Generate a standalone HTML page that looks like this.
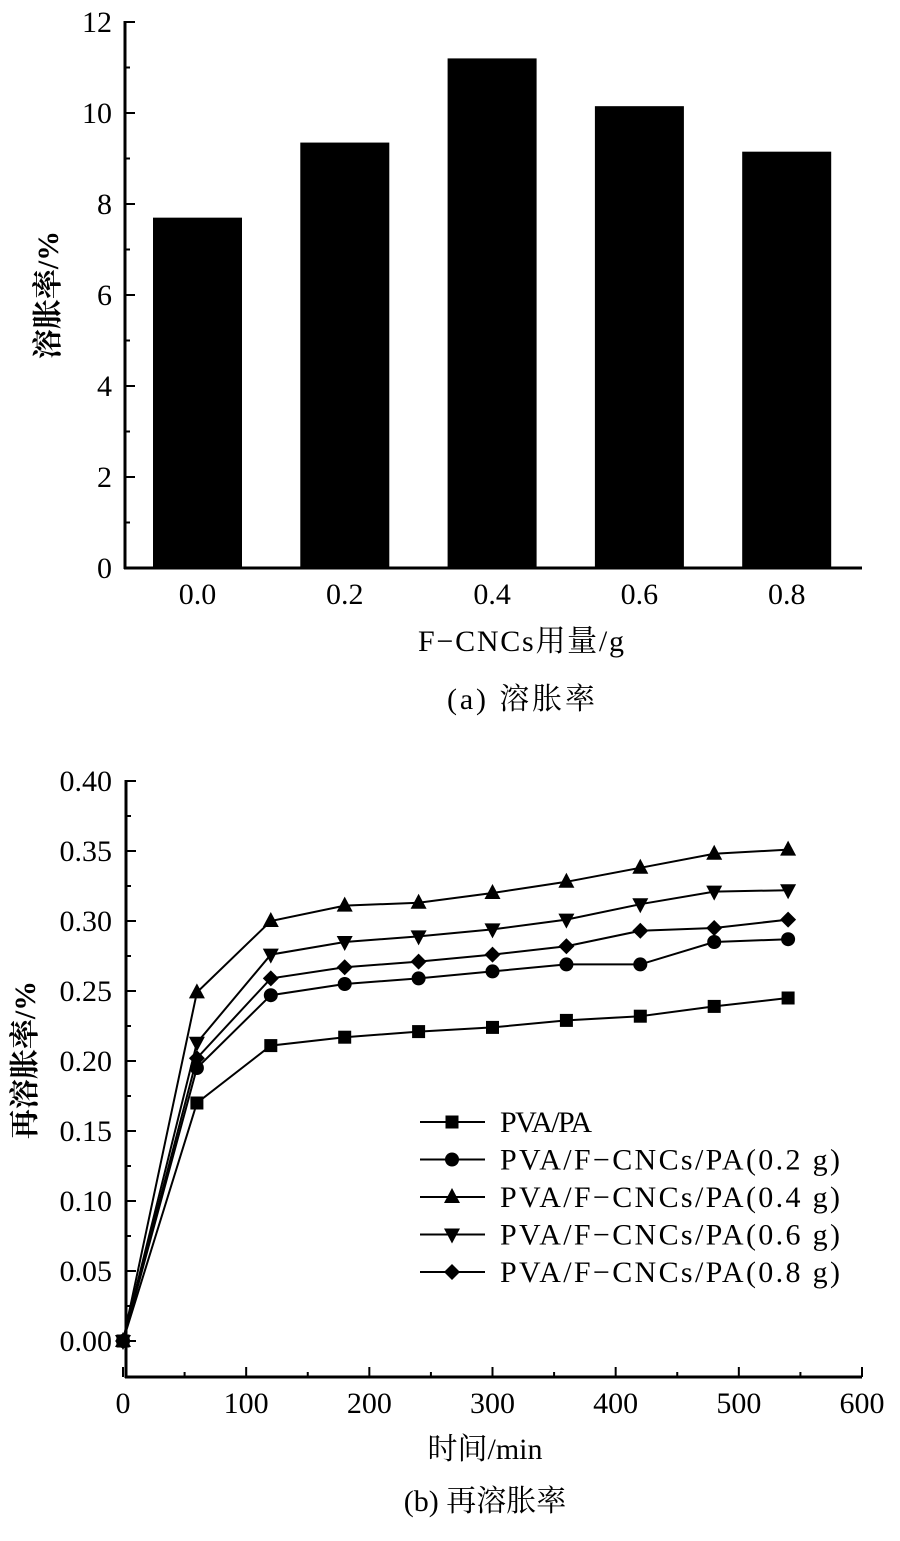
<!DOCTYPE html>
<html><head><meta charset="utf-8"><style>
body{margin:0;background:#fff;}
svg text{font-family:"Liberation Serif","Noto Serif CJK SC",serif;fill:#000;}
</style></head><body>
<svg id="s" width="900" height="1536" xmlns="http://www.w3.org/2000/svg"></svg>
<script>
var s=document.getElementById('s'),h='';
function L(x1,y1,x2,y2,w){h+='<line x1="'+x1+'" y1="'+y1+'" x2="'+x2+'" y2="'+y2+'" stroke="#000" stroke-width="'+(w||2)+'"/>';}
function T(x,y,t,sz,a,extra){h+='<text x="'+x+'" y="'+y+'" font-size="'+sz+'" text-anchor="'+(a||'middle')+'" '+(extra||'')+'>'+t+'</text>';}
var ax=125,y0=568,py=45.5;
L(ax,21,ax,y0+1,3);L(ax-1,y0,862,y0,3);
for(var i=0;i<=12;i++){var yy=y0-i*py;L(ax,yy,ax+(i%2==0?10:5),yy,2);if(i%2==0)T(112,yy+10,i,30,'end');}
var vals=[7.7,9.35,11.2,10.15,9.15],labs=['0.0','0.2','0.4','0.6','0.8'];
for(var i=0;i<5;i++){var cx=197.5+i*147.3,tp=y0-vals[i]*py;h+='<rect x="'+(cx-44.5)+'" y="'+tp+'" width="89" height="'+(y0-tp)+'" fill="#000"/>';T(cx,604,labs[i],30);}
T(521,651,'F−CNCs用量/g',30,'middle','textLength="206"');
T(521,709,'(a) 溶胀率',30,'middle','textLength="148"');
T(58,295,'溶胀率/%',30,'middle','transform="rotate(-90 58 295)" font-weight="bold"');
var bx=126,by=1377,zero=1341,sy=1400,sx=(862-123)/600;
L(bx,780,bx,by+1,3);L(bx-1,by,862,by,3);
for(var i=0;i<=16;i++){var v=i*0.025,yy=zero-v*sy;L(bx,yy,bx+(i%2==0?10:5),yy,2);if(i%2==0)T(112,yy+10,v.toFixed(2),30,'end');}
for(var t=0;t<=600;t+=50){var x=123+t*sx;L(x,by,x,by-(t%100==0?10:5),2);if(t%100==0)T(x,1413,t,30);}
T(485,1459,'时间/min',30);
T(485,1511,'(b) 再溶胀率',30);
T(35,1060,'再溶胀率/%',30,'middle','transform="rotate(-90 35 1060)" font-weight="bold"');
var D=[[0,.17,.211,.217,.221,.224,.229,.232,.239,.245],
[0,.195,.247,.255,.259,.264,.269,.269,.285,.287],
[0,.249,.300,.311,.313,.320,.328,.338,.348,.351],
[0,.213,.276,.285,.289,.294,.301,.312,.321,.322],
[0,.202,.259,.267,.271,.276,.282,.293,.295,.301]];
function M(k,x,y){
 if(k==0)h+='<rect x="'+(x-6.5)+'" y="'+(y-6.5)+'" width="13" height="13" fill="#000"/>';
 if(k==1)h+='<circle cx="'+x+'" cy="'+y+'" r="7" fill="#000"/>';
 if(k==2)h+='<polygon points="'+x+','+(y-9)+' '+(x-8)+','+(y+6)+' '+(x+8)+','+(y+6)+'" fill="#000"/>';
 if(k==3)h+='<polygon points="'+x+','+(y+9)+' '+(x-8)+','+(y-6)+' '+(x+8)+','+(y-6)+'" fill="#000"/>';
 if(k==4)h+='<polygon points="'+x+','+(y-8)+' '+(x+8)+','+y+' '+x+','+(y+8)+' '+(x-8)+','+y+'" fill="#000"/>';
}
for(var k=0;k<5;k++){var p=[];for(var j=0;j<10;j++)p.push((123+j*60*sx)+','+(zero-D[k][j]*sy));
 h+='<polyline points="'+p.join(' ')+'" fill="none" stroke="#000" stroke-width="2"/>';
 for(var j=0;j<10;j++)M(k,123+j*60*sx,zero-D[k][j]*sy);}
var names=['PVA/PA','PVA/F−CNCs/PA(0.2 g)','PVA/F−CNCs/PA(0.4 g)','PVA/F−CNCs/PA(0.6 g)','PVA/F−CNCs/PA(0.8 g)'];
for(var k=0;k<5;k++){var yy=1122+k*37.5;L(420,yy,485,yy,2);M(k,452,yy);T(500,yy+10,names[k],30,'start',k>0?'textLength="340"':'textLength="92"');}
s.innerHTML=h;
</script>
</body></html>
